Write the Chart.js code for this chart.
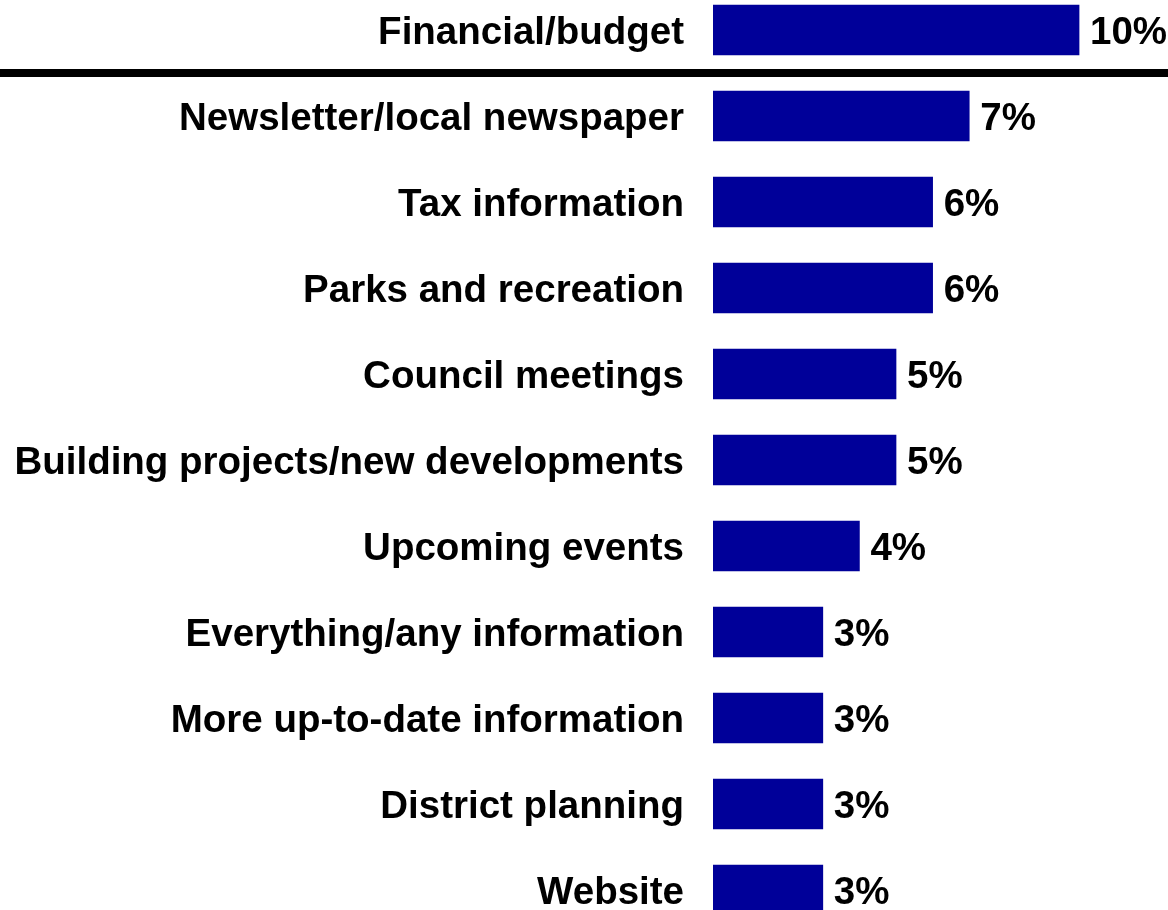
<!DOCTYPE html>
<html>
<head>
<meta charset="utf-8">
<title>Information wanted</title>
<script src="https://cdn.jsdelivr.net/npm/chart.js@4.4.1/dist/chart.umd.min.js"></script>
<style>
  html, body { margin: 0; padding: 0; background: #fff; overflow: hidden; }
  #wrap { position: relative; width: 1168px; height: 910px; overflow: hidden; }
  #chart { position: absolute; left: 0; top: -13px; }
</style>
</head>
<body>
<div id="wrap">
  <canvas id="chart" width="1168" height="946"></canvas>
</div>
<script>
// categories and percentages
const categories = [
  'Financial/budget',
  'Newsletter/local newspaper',
  'Tax information',
  'Parks and recreation',
  'Council meetings',
  'Building projects/new developments',
  'Upcoming events',
  'Everything/any information',
  'More up-to-date information',
  'District planning',
  'Website'
];
const percentValues = [10, 7, 6, 6, 5, 5, 4, 3, 3, 3, 3];

const BAR_COLOR = '#000099';
const FONT = 'bold 38.5px "Liberation Sans", Arial, sans-serif';

// thick rule under the first row
const dividerPlugin = {
  id: 'divider',
  afterDraw(chart) {
    const y = chart.scales.y;
    const mid = (y.getPixelForValue(0) + y.getPixelForValue(1)) / 2;
    const ctx = chart.ctx;
    ctx.save();
    ctx.strokeStyle = '#000';
    ctx.lineWidth = 8;
    ctx.beginPath();
    ctx.moveTo(0, mid);
    ctx.lineTo(chart.width, mid);
    ctx.stroke();
    ctx.restore();
  }
};

// category names on the left, "10%" etc. at the end of each bar
const textPlugin = {
  id: 'texts',
  afterDatasetsDraw(chart) {
    const ctx = chart.ctx;
    const meta = chart.getDatasetMeta(0);
    const left = chart.chartArea.left;
    ctx.save();
    ctx.font = FONT;
    ctx.fillStyle = '#000';
    ctx.textBaseline = 'alphabetic';
    meta.data.forEach((bar, i) => {
      const base = bar.y + 14;
      ctx.textAlign = 'right';
      ctx.fillText(chart.data.labels[i], left - 29, base);
      ctx.textAlign = 'left';
      ctx.fillText(percentValues[i] + '%', bar.x + 11, base);
    });
    ctx.restore();
  }
};

new Chart(document.getElementById('chart'), {
  type: 'bar',
  data: {
    labels: categories,
    datasets: [{
      data: percentValues,
      backgroundColor: BAR_COLOR,
      borderWidth: 0,
      barThickness: 50
    }]
  },
  options: {
    indexAxis: 'y',
    responsive: false,
    animation: false,
    layout: { padding: { left: 713, right: 0, top: 0, bottom: 0 } },
    plugins: {
      legend: { display: false },
      tooltip: { enabled: false }
    },
    scales: {
      x: { display: false, min: 0, max: 12.43 },
      y: { display: false, offset: true }
    }
  },
  plugins: [dividerPlugin, textPlugin]
});
</script>
</body>
</html>
